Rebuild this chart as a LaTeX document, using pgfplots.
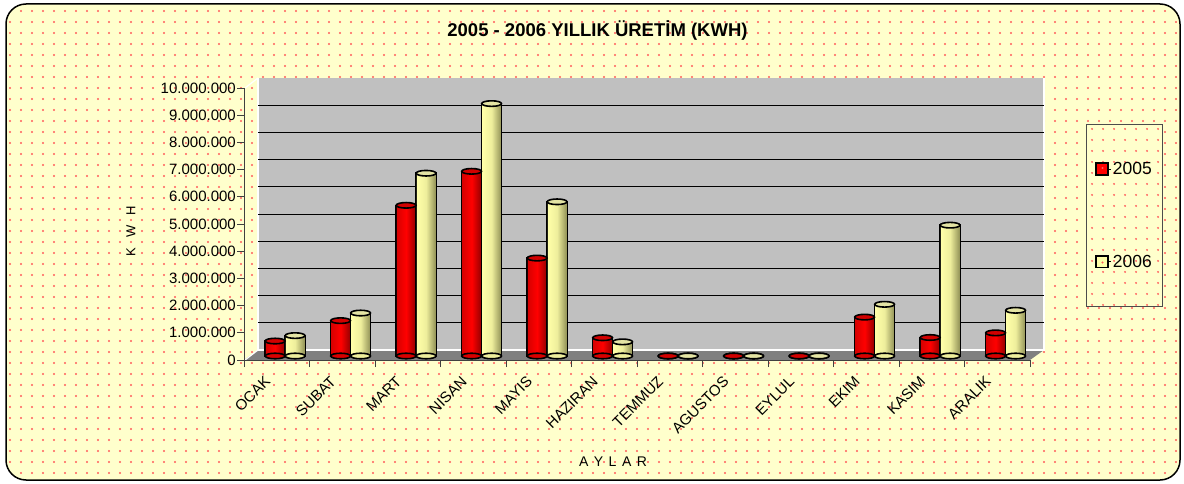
\documentclass[border=0pt]{standalone}
\usepackage{fontspec}
\setmainfont{Liberation Sans}
\usepackage{pgfplots}
\pgfplotsset{compat=1.18}
\usepackage{pgfplotstable}
\usetikzlibrary{patterns.meta}
\definecolor{bgyellow}{HTML}{FFFFCC}
\definecolor{dotred}{HTML}{FF5A5A}
\definecolor{wallgray}{HTML}{C0C0C0}
\definecolor{floorgray}{HTML}{808080}
\definecolor{barred}{HTML}{FF0000}
\definecolor{barredleft}{HTML}{D80000}
\definecolor{barreddark}{HTML}{9A0000}
\definecolor{baryel}{HTML}{FFFFA8}
\definecolor{baryelmid}{HTML}{EEEE9C}
\definecolor{baryeldark}{HTML}{96965A}
\definecolor{baryeltop}{HTML}{E4E4A4}

\pgfplotstableread{
x y5 y6
0 550000 750000
1 1300000 1580000
2 5540000 6720000
3 6790000 9280000
4 3600000 5670000
5 670000 520000
6 0 0
7 0 0
8 0 0
9 1430000 1900000
10 680000 4810000
11 850000 1680000
}\data

\begin{document}
\begin{tikzpicture}[x=1pt,y=1pt]
\path[use as bounding box] (0,0) rectangle (1184,483);
\fill[white] (0,0) rectangle (1184,483);
\fill[bgyellow, rounded corners=20pt] (6,3) rectangle (1180,479);
\fill[pattern={Dots[distance=10.5pt,radius=1.1pt]}, pattern color=dotred, rounded corners=20pt] (6,3) rectangle (1180,479);
\draw[line width=1.5pt, rounded corners=20pt] (6,3) rectangle (1180,479);
% back wall and floor
\fill[wallgray] (258,133) rectangle (1044,405);
\fill[floorgray] (244,123) -- (1030,123) -- (1044,133) -- (258,133) -- cycle;
\draw[white, line width=1.5pt] (258,405) -- (258,133) -- (1044,133) -- (1044,405);
\draw[white, line width=1.2pt] (245,395) -- (258,405);
\draw[white, line width=1.2pt] (245,123) -- (258,133);
% texts
\node[font=\bfseries\fontsize{18.5}{20}\selectfont] at (597.5,453) {2005 - 2006 YILLIK ÜRETİM (KWH)};
\node[font=\fontsize{14}{16}\selectfont] at (613,21) {A\hspace{5.5pt}Y\hspace{5.5pt}L\hspace{5.5pt}A\hspace{5.5pt}R};
\node[rotate=90, font=\fontsize{13}{15}\selectfont] at (131,252) {K\hspace{10pt}W\hspace{10pt}H};
\begin{axis}[
  at={(244pt,123pt)}, anchor=south west,
  scale only axis, width=786pt, height=272pt,
  xmin=-0.5, xmax=11.5, ymin=0, ymax=10000000,
  clip=false,
  axis x line*=bottom, axis y line*=left,
  axis line style={draw=black!75, line width=1pt},
  tick align=outside, major tick length=7pt,
  tick style={draw=black!75, line width=1pt},
  xtick={-0.5,0.5,...,11.5},
  x tick label as interval,
  xticklabels={OCAK,SUBAT,MART,NISAN,MAYIS,HAZIRAN,TEMMUZ,AGUSTOS,EYLUL,EKIM,KASIM,ARALIK},
  xticklabel style={font=\fontsize{15}{17}\selectfont, inner sep=0pt, xshift=-9pt, yshift=-12pt, rotate=45, anchor=east},
  ytick={0,1000000,2000000,3000000,4000000,5000000,6000000,7000000,8000000,9000000,10000000},
  scaled y ticks=false,
  /pgf/number format/fixed,
  /pgf/number format/precision=0,
  /pgf/number format/1000 sep={.},
  /pgf/number format/assume math mode=true,
  yticklabel style={font=\fontsize{15}{17}\selectfont, inner sep=1pt},
  extra y ticks={1000000,2000000,3000000,4000000,5000000,6000000,7000000,8000000,9000000},
  extra y tick labels={},
  extra y tick style={grid=major, major tick length=0pt},
  major grid style={draw=black, line width=1pt, shift={(14pt,10pt)}},
  legend style={at={(1.0709,0.8665)}, anchor=north west, draw=black!70, line width=0.8pt,
     fill=bgyellow, postaction={pattern={Dots[distance=10.5pt,radius=1.1pt]}, pattern color=dotred},
     font=\fontsize{17.5}{19}\selectfont, inner xsep=9pt, inner ysep=36pt,
     row sep=76pt, nodes={inner sep=1.5pt}},
  legend cell align=left,
]
% ---- 2005 ----
\addplot[forget plot, ybar, bar shift=0pt, bar width=0.305, fill=black, draw=black, line width=1.6pt, yshift=4pt]
  table[x expr=\thisrow{x}-0.025, y=y5]{\data};
\addplot[forget plot, only marks, mark=*, mark size=9.9pt, mark options={yshift=4pt, yscale=0.28, fill=barredleft, draw=black, line width=1.6pt}]
  table[x expr=\thisrow{x}-0.025, y expr=0]{\data};
\pgfplotsinvokeforeach{0,...,11}{
\addplot[forget plot, ybar, bar shift=0pt, bar width=0.281, draw=none, left color=barredleft, right color=barreddark, middle color=barred, yshift=4pt,
  restrict expr to domain={\thisrow{x}}{#1:#1.4}]
  table[x expr=\thisrow{x}-0.025, y=y5]{\data};
}
\addplot[only marks, mark=*, mark size=9.9pt, mark options={yshift=4pt, yscale=0.28, fill=red!82!black, draw=black, line width=1.6pt},
  legend image code/.code={\path (0pt,0pt) -- (15pt,0pt); \draw[fill=red, draw=black, line width=1.8pt] (0pt,-5.8pt) rectangle (11.6pt,5.8pt);}]
  table[x expr=\thisrow{x}-0.025, y=y5]{\data};
\addlegendentry{2005}
% ---- 2006 ----
\addplot[forget plot, ybar, bar shift=0pt, bar width=0.305, fill=black, draw=black, line width=1.6pt, yshift=4pt]
  table[x expr=\thisrow{x}+0.28, y=y6]{\data};
\addplot[forget plot, only marks, mark=*, mark size=9.9pt, mark options={yshift=4pt, yscale=0.28, fill=baryelmid, draw=black, line width=1.6pt}]
  table[x expr=\thisrow{x}+0.28, y expr=0]{\data};
\pgfplotsinvokeforeach{0,...,11}{
\addplot[forget plot, ybar, bar shift=0pt, bar width=0.281, draw=none, left color=baryel, right color=baryeldark, middle color=baryelmid, yshift=4pt,
  restrict expr to domain={\thisrow{x}}{#1:#1.4}]
  table[x expr=\thisrow{x}+0.28, y=y6]{\data};
}
\addplot[only marks, mark=*, mark size=9.9pt, mark options={yshift=4pt, yscale=0.28, fill=baryeltop, draw=black, line width=1.6pt},
  legend image code/.code={\path (0pt,0pt) -- (15pt,0pt); \draw[fill=baryel, draw=black, line width=1.8pt] (0pt,-5.8pt) rectangle (11.6pt,5.8pt);}]
  table[x expr=\thisrow{x}+0.28, y=y6]{\data};
\addlegendentry{2006}
\end{axis}
\end{tikzpicture}
\end{document}
